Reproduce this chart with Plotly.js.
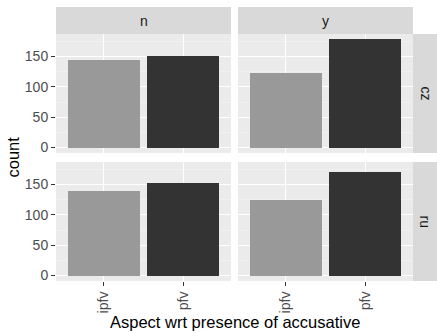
<!DOCTYPE html>
<html>
<head>
<meta charset="utf-8">
<script src="https://cdn.plot.ly/plotly-3.0.1.min.js"></script>
<style>html,body{margin:0;padding:0;background:#fff;}#chart{width:437px;height:333px;}</style>
</head>
<body>
<div id="chart"></div>
<script>
// ---- data ----
const aspects = ['ipfv', 'pfv'];
const languages = ['cz', 'ru'];
const accusative = ['n', 'y'];
const cz_n = [144, 150];
const cz_y = [122, 178];
const ru_n = [140, 153];
const ru_y = [125, 170];
const barColors = ['#999999', '#333333'];

const W = 437, H = 333;
const px = v => v / W;
const py = v => 1 - v / H;

// panel pixel boxes
const colX = [[56, 231], [238, 413]];
const rowY = [[34, 153], [162, 281]];   // top row = cz, bottom row = ru
const stripTop = [7, 34];
const stripRight = [413, 437];

const maxv = Math.max(...cz_n, ...cz_y, ...ru_n, ...ru_y);
const yRange = [-0.05 * maxv, 1.05 * maxv];

const panels = [
  {vals: cz_n, row: 0, col: 0, ax: '3'},
  {vals: cz_y, row: 0, col: 1, ax: '4'},
  {vals: ru_n, row: 1, col: 0, ax: ''},
  {vals: ru_y, row: 1, col: 1, ax: '2'}
];

const traces = panels.map(p => ({
  type: 'bar',
  x: aspects,
  y: p.vals,
  width: 0.9,
  marker: {color: barColors, line: {width: 0}},
  xaxis: 'x' + p.ax,
  yaxis: 'y' + p.ax,
  showlegend: false,
  hoverinfo: 'none'
}));

const tickFont = {family: 'Liberation Sans, Arial, sans-serif', size: 14, color: '#4D4D4D'};
const layout = {
  width: W, height: H,
  margin: {l: 0, r: 0, t: 0, b: 0},
  paper_bgcolor: '#FFFFFF',
  plot_bgcolor: '#EBEBEB',
  bargap: 0,
  shapes: [],
  annotations: []
};

panels.forEach(p => {
  const xa = {
    type: 'category',
    domain: [px(colX[p.col][0]), px(colX[p.col][1])],
    range: [-0.6, 1.6],
    anchor: 'y' + p.ax,
    showgrid: true, gridcolor: '#FFFFFF', gridwidth: 1.1,
    zeroline: false, showline: false,
    fixedrange: true, automargin: false,
    tickfont: tickFont
  };
  if (p.row === 1) {
    Object.assign(xa, {ticks: 'outside', ticklen: 4, tickwidth: 1, tickcolor: '#333333',
      showticklabels: true, tickangle: -90});
  } else {
    Object.assign(xa, {ticks: '', showticklabels: false});
  }
  const ya = {
    domain: [py(rowY[p.row][1]), py(rowY[p.row][0])],
    range: yRange,
    anchor: 'x' + p.ax,
    tickvals: [0, 50, 100, 150],
    showgrid: true, gridcolor: '#FFFFFF', gridwidth: 1.1,
    minor: {tickvals: [25, 75, 125, 175], showgrid: true, gridcolor: '#F5F5F5', gridwidth: 0.55, ticks: ''},
    zeroline: false, showline: false,
    fixedrange: true, automargin: false,
    tickfont: tickFont
  };
  if (p.col === 0) {
    Object.assign(ya, {ticks: 'outside', ticklen: 4, tickwidth: 1, tickcolor: '#333333', showticklabels: true});
  } else {
    Object.assign(ya, {ticks: '', showticklabels: false});
  }
  layout['xaxis' + p.ax] = xa;
  layout['yaxis' + p.ax] = ya;
});

const stripFont = {family: 'Liberation Sans, Arial, sans-serif', size: 14, color: '#1A1A1A'};
// top strips
accusative.forEach((lab, c) => {
  layout.shapes.push({type: 'rect', xref: 'paper', yref: 'paper',
    x0: px(colX[c][0]), x1: px(colX[c][1]), y0: py(stripTop[1]), y1: py(stripTop[0]),
    fillcolor: '#D9D9D9', line: {width: 0}, layer: 'below'});
  layout.annotations.push({xref: 'paper', yref: 'paper', x: px((colX[c][0] + colX[c][1]) / 2),
    y: py((stripTop[0] + stripTop[1]) / 2), text: lab, showarrow: false, font: stripFont,
    xanchor: 'center', yanchor: 'middle'});
});
// right strips
languages.forEach((lab, r) => {
  layout.shapes.push({type: 'rect', xref: 'paper', yref: 'paper',
    x0: px(stripRight[0]), x1: px(stripRight[1]), y0: py(rowY[r][1]), y1: py(rowY[r][0]),
    fillcolor: '#D9D9D9', line: {width: 0}, layer: 'below'});
  layout.annotations.push({xref: 'paper', yref: 'paper', x: px((stripRight[0] + stripRight[1]) / 2),
    y: py((rowY[r][0] + rowY[r][1]) / 2), text: lab, showarrow: false, font: stripFont,
    textangle: 90, xanchor: 'center', yanchor: 'middle'});
});

const titleFont = {family: 'Liberation Sans, Arial, sans-serif', size: 16.5, color: '#000000'};
layout.annotations.push({xref: 'paper', yref: 'paper', x: px((colX[0][0] + colX[1][1]) / 2), y: py(322),
  text: 'Aspect wrt presence of accusative', showarrow: false, font: titleFont, xanchor: 'center', yanchor: 'middle'});
layout.annotations.push({xref: 'paper', yref: 'paper', x: px(12), y: py((rowY[0][0] + rowY[1][1]) / 2),
  text: 'count', showarrow: false, font: titleFont, textangle: -90, xanchor: 'center', yanchor: 'middle'});

Plotly.newPlot('chart', traces, layout, {displayModeBar: false, staticPlot: true});
</script>
</body>
</html>
